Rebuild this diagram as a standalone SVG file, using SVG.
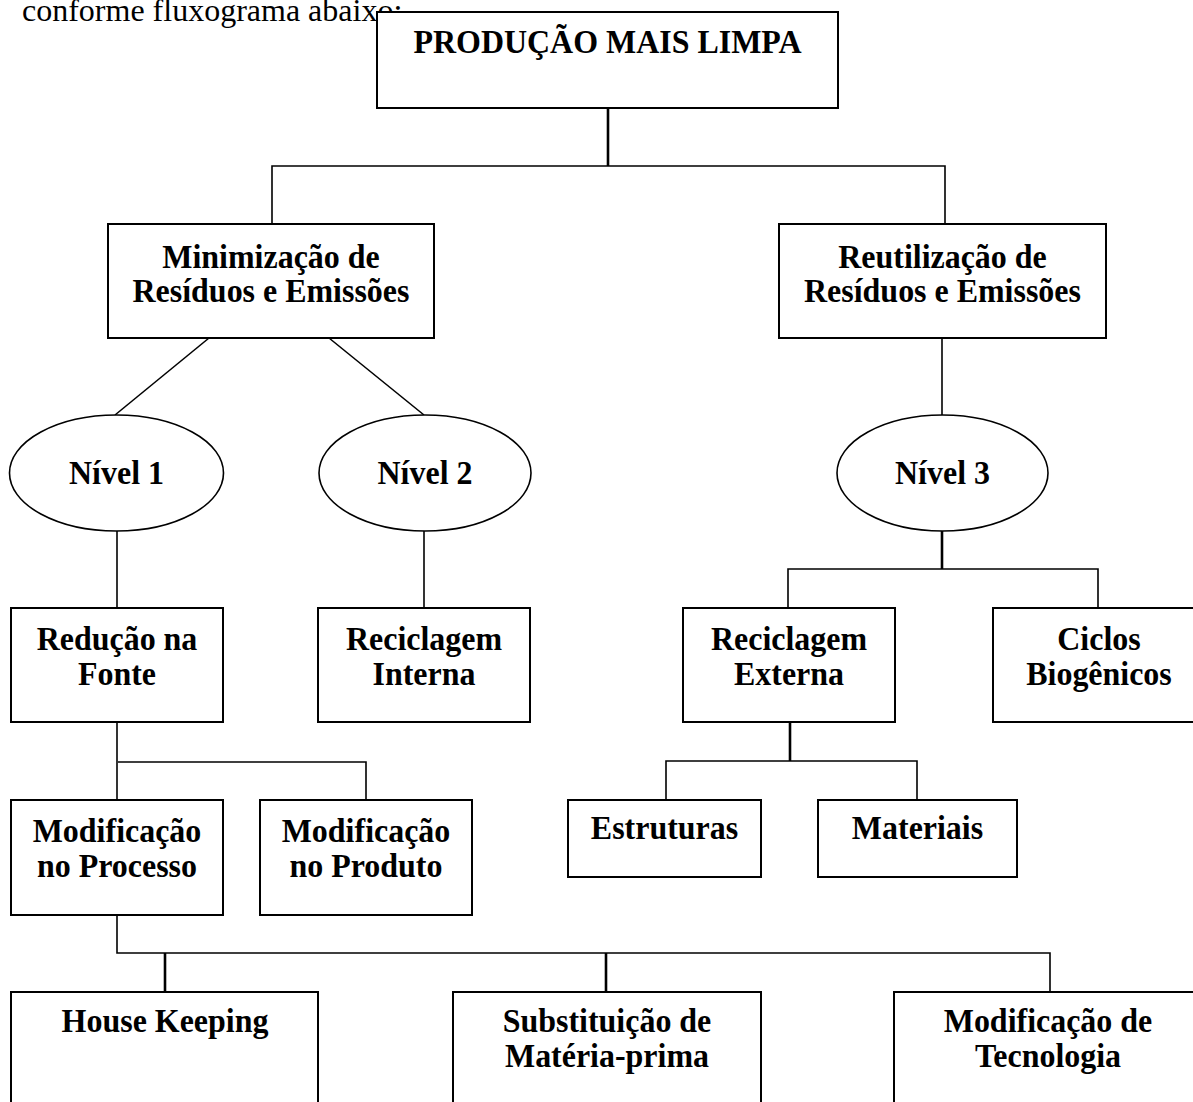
<svg xmlns="http://www.w3.org/2000/svg" width="1193" height="1102" viewBox="0 0 1193 1102">
<style>
.bg{fill:#fff}
.box{fill:#fff;stroke:#000;stroke-width:2}
.ell{fill:#fff;stroke:#000;stroke-width:1.6}
.ln{fill:none;stroke:#000;stroke-width:1.6}
.stem{fill:none;stroke:#000;stroke-width:2.6}
.t{font-family:"Liberation Serif","Times New Roman",serif;font-weight:bold;font-size:34px;fill:#000;text-anchor:middle}
.intro{font-family:"Liberation Serif","Times New Roman",serif;font-size:32px;fill:#000}
</style>
<rect class="bg" x="0" y="0" width="1193" height="1102"/>
<text class="intro" x="22" y="21">conforme fluxograma abaixo:</text>
<g id="connectors">
<line class="stem" x1="608" y1="108" x2="608" y2="166"/>
<polyline class="ln" points="272,224 272,166 945,166 945,224"/>
<line class="ln" x1="209" y1="338" x2="115" y2="415"/>
<line class="ln" x1="329" y1="338" x2="424" y2="415"/>
<line class="ln" x1="942" y1="338" x2="942" y2="415"/>
<line class="ln" x1="117" y1="531" x2="117" y2="608"/>
<line class="ln" x1="424" y1="531" x2="424" y2="608"/>
<line class="stem" x1="942" y1="531" x2="942" y2="569"/>
<polyline class="ln" points="788,608 788,569 1098,569 1098,608"/>
<line class="ln" x1="117" y1="722" x2="117" y2="800"/>
<polyline class="ln" points="118,762 366,762 366,800"/>
<line class="stem" x1="790" y1="722" x2="790" y2="761"/>
<polyline class="ln" points="666,800 666,761 917,761 917,800"/>
<polyline class="ln" points="117,915 117,953 1050,953 1050,992"/>
<line class="stem" x1="165" y1="953" x2="165" y2="992"/>
<line class="stem" x1="606" y1="953" x2="606" y2="992"/>
</g>
<g id="producao">
<rect class="box" x="377" y="12" width="461" height="96"/>
<text class="t" transform="translate(607.5 53) scale(0.94 1)">PRODUÇÃO MAIS LIMPA</text>
</g>
<g id="minimizacao">
<rect class="box" x="108" y="224" width="326" height="114"/>
<text class="t" transform="translate(271 268) scale(0.94 1)">Minimização de</text>
<text class="t" transform="translate(271 302) scale(0.94 1)">Resíduos e Emissões</text>
</g>
<g id="reutilizacao">
<rect class="box" x="779" y="224" width="327" height="114"/>
<text class="t" transform="translate(942.5 268) scale(0.94 1)">Reutilização de</text>
<text class="t" transform="translate(942.5 302) scale(0.94 1)">Resíduos e Emissões</text>
</g>
<g id="nivel1">
<ellipse class="ell" cx="116.5" cy="473" rx="107" ry="58"/>
<text class="t" transform="translate(116.5 484) scale(0.94 1)">Nível 1</text>
</g>
<g id="nivel2">
<ellipse class="ell" cx="425" cy="473" rx="106" ry="58"/>
<text class="t" transform="translate(425 484) scale(0.94 1)">Nível 2</text>
</g>
<g id="nivel3">
<ellipse class="ell" cx="942.5" cy="473" rx="105.5" ry="58"/>
<text class="t" transform="translate(942.5 484) scale(0.94 1)">Nível 3</text>
</g>
<g id="reducao">
<rect class="box" x="11" y="608" width="212" height="114"/>
<text class="t" transform="translate(117 650) scale(0.94 1)">Redução na</text>
<text class="t" transform="translate(117 685) scale(0.94 1)">Fonte</text>
</g>
<g id="recInterna">
<rect class="box" x="318" y="608" width="212" height="114"/>
<text class="t" transform="translate(424 650) scale(0.94 1)">Reciclagem</text>
<text class="t" transform="translate(424 685) scale(0.94 1)">Interna</text>
</g>
<g id="recExterna">
<rect class="box" x="683" y="608" width="212" height="114"/>
<text class="t" transform="translate(789 650) scale(0.94 1)">Reciclagem</text>
<text class="t" transform="translate(789 685) scale(0.94 1)">Externa</text>
</g>
<g id="ciclos">
<rect class="box" x="993" y="608" width="212" height="114"/>
<text class="t" transform="translate(1099 650) scale(0.94 1)">Ciclos</text>
<text class="t" transform="translate(1099 685) scale(0.94 1)">Biogênicos</text>
</g>
<g id="modProcesso">
<rect class="box" x="11" y="800" width="212" height="115"/>
<text class="t" transform="translate(117 842) scale(0.94 1)">Modificação</text>
<text class="t" transform="translate(117 877) scale(0.94 1)">no Processo</text>
</g>
<g id="modProduto">
<rect class="box" x="260" y="800" width="212" height="115"/>
<text class="t" transform="translate(366 842) scale(0.94 1)">Modificação</text>
<text class="t" transform="translate(366 877) scale(0.94 1)">no Produto</text>
</g>
<g id="estruturas">
<rect class="box" x="568" y="800" width="193" height="77"/>
<text class="t" transform="translate(664.5 839) scale(0.94 1)">Estruturas</text>
</g>
<g id="materiais">
<rect class="box" x="818" y="800" width="199" height="77"/>
<text class="t" transform="translate(917.5 839) scale(0.94 1)">Materiais</text>
</g>
<g id="houseKeeping">
<rect class="box" x="11" y="992" width="307" height="130"/>
<text class="t" transform="translate(165 1032) scale(0.94 1)">House Keeping</text>
</g>
<g id="substituicao">
<rect class="box" x="453" y="992" width="308" height="130"/>
<text class="t" transform="translate(607 1032) scale(0.94 1)">Substituição de</text>
<text class="t" transform="translate(607 1067) scale(0.94 1)">Matéria-prima</text>
</g>
<g id="tecnologia">
<rect class="box" x="894" y="992" width="311" height="130"/>
<text class="t" transform="translate(1048 1032) scale(0.94 1)">Modificação de</text>
<text class="t" transform="translate(1048 1067) scale(0.94 1)">Tecnologia</text>
</g>
</svg>
